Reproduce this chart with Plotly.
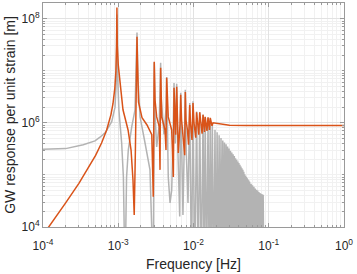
import plotly.graph_objects as go

# ---------------- data ----------------
# Orange curve: response with resonances, flat above ~0.02 Hz
orange_f = [1.0e-4, 1.5e-4, 2.0e-4, 3.0e-4, 4.0e-4, 5.0e-4, 6.0e-4, 7.0e-4, 8.0e-4, 8.5e-4,
            9.0e-4, 9.3e-4, 9.5e-4, 9.6e-4, 9.72e-4, 1.0e-3, 1.055e-3, 1.156e-3, 1.35e-3, 1.48e-3,
            1.57e-3, 1.63e-3, 1.69e-3, 1.74e-3, 1.775e-3, 1.80e-3, 1.83e-3, 1.86e-3, 2.07e-3, 2.41e-3,
            2.79e-3, 2.92e-3, 2.97e-3, 3.01e-3, 3.08e-3, 3.24e-3, 3.51e-3, 3.59e-3, 3.66e-3, 3.78e-3,
            4.18e-3, 4.31e-3, 4.40e-3, 4.62e-3, 5.13e-3, 5.40e-3, 5.51e-3, 5.68e-3, 5.80e-3, 5.98e-3,
            6.12e-3, 6.28e-3, 6.62e-3, 6.76e-3, 6.94e-3, 7.64e-3, 7.78e-3, 7.94e-3, 8.31e-3, 8.59e-3,
            8.91e-3, 9.12e-3, 9.55e-3, 9.85e-3, 1.016e-2, 1.07e-2, 1.10e-2, 1.137e-2, 1.175e-2, 1.21e-2,
            1.25e-2, 1.30e-2, 1.34e-2, 1.37e-2, 1.40e-2, 1.43e-2, 1.47e-2, 1.51e-2, 1.56e-2, 1.60e-2,
            1.63e-2, 1.67e-2, 1.71e-2, 1.76e-2, 1.82e-2, 2.2e-2, 3.0e-2, 5.0e-2, 1.0]
orange_v = [7.0e3, 1.57e4, 2.9e4, 6.9e4, 1.34e5, 2.37e5, 4.1e5, 7.2e5, 1.44e6, 2.3e6,
            4.6e6, 9.7e6, 3.0e7, 1.63e8, 3.0e7, 1.3e7, 6.7e6, 1.78e6, 7.3e5, 3.0e5,
            8.0e4, 1.7e4, 3.0e5, 6.7e6, 4.5e7, 1.6e7, 6.7e6, 2.5e6, 1.25e6, 9.1e5,
            5.9e5, 3.8e4, 1.14e6, 1.49e7, 2.77e6, 1.3e6, 8.4e5, 1.25e5, 1.14e7, 1.3e6,
            7.3e5, 3.0e5, 7.3e6, 1.3e6, 7.3e5, 9.1e4, 4.7e6, 1.14e6, 5.9e5, 4.9e6,
            1.14e6, 2.65e5, 9.2e5, 3.45e6, 1.14e6, 2.4e5, 3.9e6, 1.14e6, 7.3e5, 3.8e5,
            2.2e6, 1.0e6, 4.7e5, 2.4e6, 1.0e6, 5.2e5, 1.6e6, 9.2e5, 5.9e5, 1.6e6,
            9.2e5, 6.2e5, 1.42e6, 8.8e5, 6.7e5, 1.3e6, 8.8e5, 7.0e5, 1.27e6, 8.8e5,
            7.3e5, 1.25e6, 9.5e5, 8.8e5, 1.0e6, 9.5e5, 9.0e5, 8.9e5, 8.9e5]

# Gray curve, low-frequency part (up to ~0.019 Hz)
gray_f = [1.0e-4, 2.0e-4, 3.43e-4, 4.91e-4, 5.72e-4, 6.67e-4, 8.19e-4, 9.06e-4, 9.4e-4, 9.6e-4,
          9.8e-4, 1.02e-3, 1.11e-3, 1.17e-3, 1.23e-3, 1.29e-3, 1.36e-3, 1.51e-3, 1.67e-3, 1.74e-3,
          1.775e-3, 1.83e-3, 1.95e-3, 2.27e-3, 2.64e-3, 2.92e-3, 2.98e-3, 3.01e-3, 3.08e-3, 3.24e-3,
          3.5e-3, 3.63e-3, 3.66e-3, 3.72e-3, 4.05e-3, 4.33e-3, 4.40e-3, 4.48e-3, 4.62e-3, 4.88e-3,
          5.13e-3, 5.35e-3, 5.51e-3, 5.72e-3, 5.98e-3, 6.2e-3, 6.56e-3, 6.76e-3, 6.95e-3, 7.24e-3,
          7.78e-3, 8.0e-3, 8.45e-3, 8.91e-3, 9.4e-3, 9.85e-3, 1.04e-2, 1.10e-2, 1.155e-2, 1.21e-2,
          1.27e-2, 1.34e-2, 1.385e-2, 1.43e-2, 1.495e-2, 1.56e-2, 1.615e-2, 1.67e-2, 1.725e-2, 1.78e-2,
          1.855e-2]
gray_v = [3.1e5, 3.2e5, 3.8e5, 4.5e5, 5.3e5, 6.4e5, 1.05e6, 2.0e6, 6.0e6, 1.2e8,
          8.0e6, 1.78e6, 4.1e5, 9.1e4, 1.0e3, 9.1e4, 3.0e5, 8.4e5, 1.78e6, 1.05e7,
          5.4e7, 6.7e6, 1.3e6, 4.1e5, 1.25e5, 1.0e3, 1.5e6, 1.45e7, 1.5e6, 3.45e5,
          9.0e5, 5.0e6, 1.43e7, 3.0e6, 6.0e5, 2.0e6, 7.6e6, 1.5e6, 9.1e4, 2.9e4,
          5.1e4, 5.0e5, 5.8e6, 4.0e5, 5.6e6, 3.0e5, 1.6e4, 3.8e6, 3.0e5, 1.7e4,
          4.3e6, 3.0e5, 2.9e4, 2.4e6, 1.0e3, 2.6e6, 1.0e3, 1.65e6, 1.0e3, 1.6e6,
          1.0e3, 1.45e6, 1.0e3, 1.3e6, 1.0e3, 1.25e6, 1.0e3, 1.2e6, 1.0e3, 9.0e5,
          1.0e3]

# Gray curve, dense comb (0.019 - 0.087 Hz): tooth peaks (mHz) and values, zeros between them (mHz)
comb_peak_mhz = [19.3, 20.6, 21.9, 23.2, 24.5, 25.8, 27.1, 28.4, 29.7, 31.0,
                 32.3, 33.6, 34.9, 36.2, 37.5, 38.8, 40.1, 41.4, 42.7, 44.0,
                 45.3, 46.6, 47.9, 49.2, 50.5, 51.8, 53.1, 54.4, 55.7, 57.0,
                 58.3, 59.6, 60.9, 62.2, 63.5, 64.8, 66.1, 67.4, 68.7, 70.0,
                 71.3, 72.6, 73.9, 75.2, 76.5, 77.8, 79.1, 80.4, 81.7, 83.0,
                 84.3, 85.6]
comb_peak_v = [7.4e5, 6.6e5, 5.8e5, 5.1e5, 4.6e5, 4.2e5, 3.9e5, 3.5e5, 3.2e5, 2.9e5,
               2.7e5, 2.5e5, 2.3e5, 2.1e5, 1.95e5, 1.8e5, 1.7e5, 1.57e5, 1.45e5, 1.35e5,
               1.25e5, 1.15e5, 1.03e5, 9.6e4, 9.1e4, 8.6e4, 8.2e4, 7.8e4, 7.4e4, 7.1e4,
               6.8e4, 6.6e4, 6.3e4, 6.1e4, 5.9e4, 5.7e4, 5.5e4, 5.4e4, 5.2e4, 5.1e4,
               5.0e4, 4.8e4, 4.7e4, 4.6e4, 4.5e4, 4.4e4, 4.35e4, 4.3e4, 4.25e4, 4.2e4,
               4.15e4, 4.1e4]
comb_zero_mhz = [19.95, 21.25, 22.55, 23.85, 25.15, 26.45, 27.75, 29.05, 30.35, 31.65,
                 32.95, 34.25, 35.55, 36.85, 38.15, 39.45, 40.75, 42.05, 43.35, 44.65,
                 45.95, 47.25, 48.55, 49.85, 51.15, 52.45, 53.75, 55.05, 56.35, 57.65,
                 58.95, 60.25, 61.55, 62.85, 64.15, 65.45, 66.75, 68.05, 69.35, 70.65,
                 71.95, 73.25, 74.55, 75.85, 77.15, 78.45, 79.75, 81.05, 82.35, 83.65,
                 84.95, 86.25]
comb_zero_v = 1.0e3   # response drops to ~0 (below the axis floor)

x_tick_vals = [1e-4, 1e-3, 1e-2, 1e-1, 1e0]
x_tick_text = ["10<sup>-4</sup>", "10<sup>-3</sup>", "10<sup>-2</sup>", "10<sup>-1</sup>", "10<sup>0</sup>"]
y_tick_vals = [1e4, 1e6, 1e8]
y_tick_text = ["10<sup>4</sup>", "10<sup>6</sup>", "10<sup>8</sup>"]

# ---------------- build ----------------
gx = list(gray_f)
gy = list(gray_v)
for fp, vp, fz in zip(comb_peak_mhz, comb_peak_v, comb_zero_mhz):
    gx += [fp * 1e-3, fz * 1e-3]
    gy += [vp, comb_zero_v]

x_minor = [m * 10.0 ** e for e in range(-4, 0) for m in range(2, 10)]
y_minor = [m * 10.0 ** e for e in range(4, 9) for m in range(1, 10) if not (m == 1 and e % 2 == 0)]
y_minor = [v for v in y_minor if v <= 2e8]

GRAY = "#b3b3b3"
ORANGE = "#d95319"
AXC = "#9a9a9a"
FONT = "Liberation Sans, Arial, Helvetica, sans-serif"

fig = go.Figure()
fig.add_trace(go.Scatter(x=gx, y=gy, mode="lines", line=dict(color=GRAY, width=1.5),
                         hoverinfo="skip"))
fig.add_trace(go.Scatter(x=orange_f, y=orange_v, mode="lines", line=dict(color=ORANGE, width=1.5),
                         hoverinfo="skip"))

fig.update_layout(
    width=357, height=274,
    margin=dict(l=43, r=13, t=3, b=47),
    paper_bgcolor="white", plot_bgcolor="white",
    showlegend=False,
    font=dict(family=FONT, color="#262626", size=12),
)
fig.update_xaxes(
    type="log", range=[-4, 0],
    tickmode="array", tickvals=x_tick_vals, ticktext=x_tick_text,
    ticks="inside", ticklen=4, tickcolor=AXC, tickfont=dict(size=12, color="#262626"),
    ticklabelstandoff=8,
    showline=True, linecolor=AXC, linewidth=1, mirror="allticks",
    showgrid=True, gridcolor="#e2e2e2", gridwidth=1, zeroline=False,
    minor=dict(tickmode="array", tickvals=x_minor, ticks="inside", ticklen=2, tickcolor=AXC,
               showgrid=True, gridcolor="#f1f1f1", gridwidth=1),
    title=dict(text="Frequency [Hz]", font=dict(size=14, color="#262626"), standoff=6),
    automargin=False,
)
fig.update_yaxes(
    type="log", range=[4, 8.301],
    tickmode="array", tickvals=y_tick_vals, ticktext=y_tick_text,
    ticks="inside", ticklen=4, tickcolor=AXC, tickfont=dict(size=12, color="#262626"),
    showline=True, linecolor=AXC, linewidth=1, mirror="allticks",
    showgrid=True, gridcolor="#e2e2e2", gridwidth=1, zeroline=False,
    minor=dict(tickmode="array", tickvals=y_minor, ticks="inside", ticklen=2, tickcolor=AXC,
               showgrid=True, gridcolor="#f1f1f1", gridwidth=1),
    title=dict(text="GW response per unit strain [m]", font=dict(size=14, color="#262626"), standoff=2),
    automargin=False,
)

fig.write_html("out.html", config={"displayModeBar": False, "staticPlot": True},
               post_script="document.body.style.margin='0';")
